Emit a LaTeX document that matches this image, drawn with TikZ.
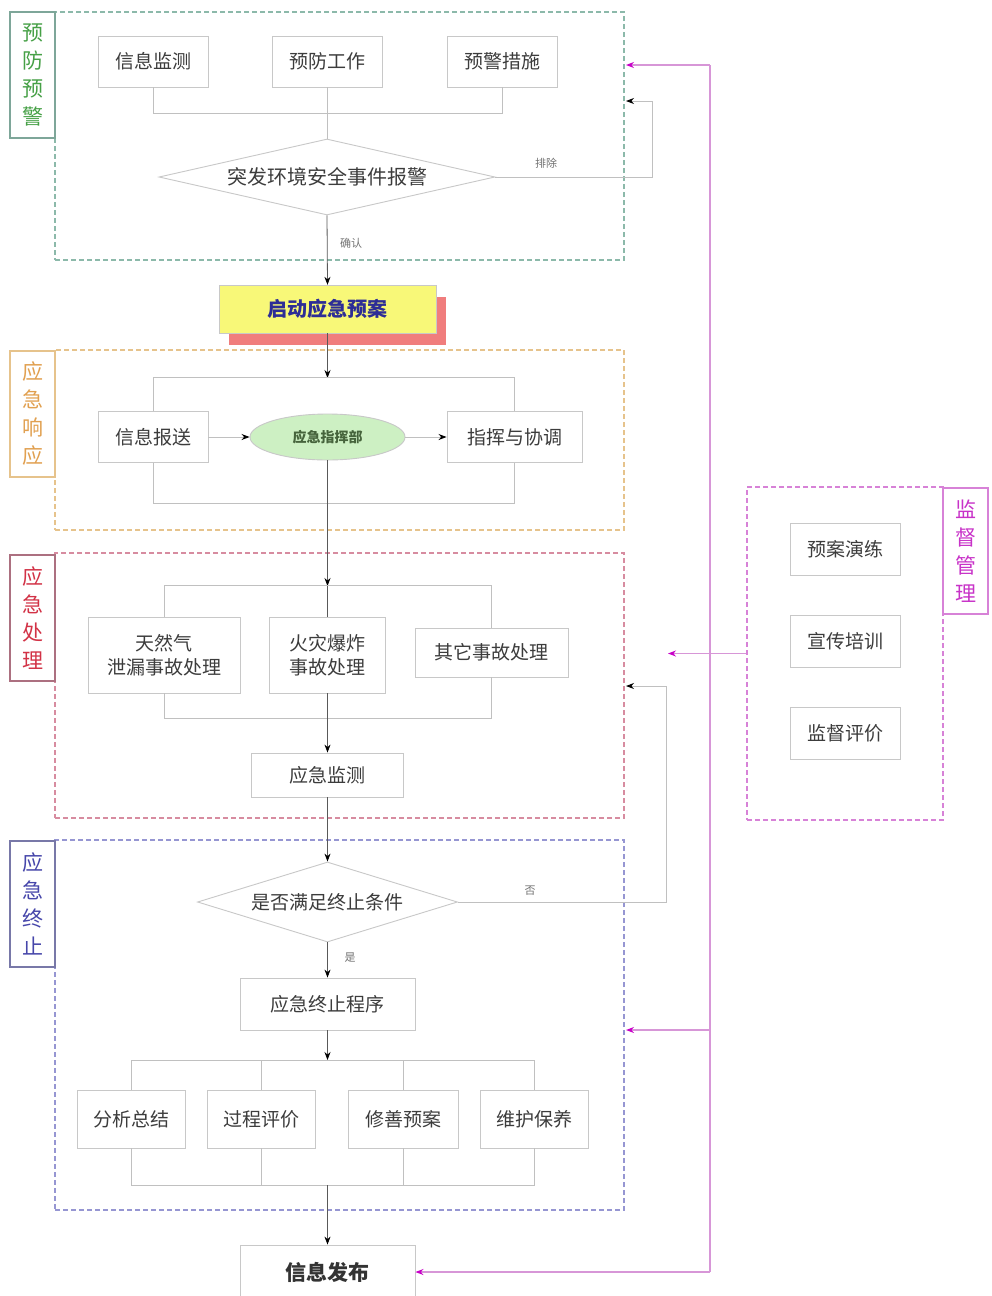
\documentclass[tikz,border=0pt]{standalone}
\usepackage{fontspec}
\newfontfamily\cjk{Noto Sans CJK SC}
\usetikzlibrary{arrows.meta,shapes.geometric}
\definecolor{gline}{RGB}{192,192,192}
\definecolor{boxline}{RGB}{200,200,200}
\definecolor{txt}{RGB}{60,60,60}
\definecolor{cA}{RGB}{140,185,170}
\definecolor{cAt}{RGB}{70,160,70}
\definecolor{cB}{RGB}{230,195,140}
\definecolor{cBt}{RGB}{225,160,80}
\definecolor{cC}{RGB}{215,140,160}
\definecolor{cCt}{RGB}{210,50,70}
\definecolor{cD}{RGB}{150,150,210}
\definecolor{cDt}{RGB}{70,70,170}
\definecolor{cE}{RGB}{215,130,215}
\definecolor{cEt}{RGB}{200,50,200}
\definecolor{mline}{RGB}{215,150,215}
\definecolor{mtip}{RGB}{200,0,200}
\definecolor{yel}{RGB}{248,248,120}
\definecolor{shred}{RGB}{240,125,125}
\definecolor{egreen}{RGB}{205,240,195}
\tikzset{
  every node/.style={font=\cjk},
  box/.style={draw=boxline, line width=0.9pt, fill=white, text=txt, inner sep=0pt, align=center,
    font=\cjk\fontsize{19}{24}\selectfont},
  grp/.style={dashed, dash pattern=on 5pt off 3pt, line width=1.2pt, inner sep=0pt},
  lab/.style={line width=1.2pt, fill=white, inner sep=0pt, minimum width=45pt, minimum height=126pt,
    align=center, font=\cjk\fontsize{21}{28}\selectfont},
  gl/.style={draw=gline, line width=0.9pt},
  fl/.style={draw=gline, line width=0.9pt, -{Stealth[length=8pt,width=6pt,color=black]}},
  cl/.style={draw=black!65, line width=0.8pt, -{Stealth[length=8pt,width=6pt,color=black]}},
  ml/.style={draw=mline, line width=1.2pt},
  ma/.style={draw=mline, line width=1.2pt, -{Stealth[length=8pt,width=6pt,color=mtip]}},
  small/.style={text=black!55, font=\cjk\fontsize{11}{13}\selectfont},
}
\begin{document}
\begin{tikzpicture}[x=1pt,y=-1pt]
\useasboundingbox (0,0) rectangle (992,1296);
\fill[white] (0,0) rectangle (992,1296);

% group frames
\node[grp, draw=cA, minimum width=569pt, minimum height=248pt] (g1) at (339.5,136) {};
\node[grp, draw=cB, minimum width=569pt, minimum height=180pt] (g2) at (339.5,440) {};
\node[grp, draw=cC, minimum width=569pt, minimum height=265pt] (g3) at (339.5,685.5) {};
\node[grp, draw=cD, minimum width=569pt, minimum height=370pt] (g4) at (339.5,1025) {};
\node[grp, draw=cE, minimum width=196pt, minimum height=333pt] (g5) at (845,653.5) {};

% section labels
\node[lab, draw=cA!90!black, text=cAt] (l1) at (32.5,75) {预\\防\\预\\警};
\node[lab, draw=cB, text=cBt] (l2) at (32.5,414) {应\\急\\响\\应};
\node[lab, draw=cC!80!black, text=cCt] (l3) at (32.5,618) {应\\急\\处\\理};
\node[lab, draw=cD!80!black, text=cDt] (l4) at (32.5,904) {应\\急\\终\\止};
\node[lab, draw=cE, text=cEt] (l5) at (965.5,551) {监\\督\\管\\理};

% section 1
\node[box, minimum width=110pt, minimum height=51pt] (m1) at (153,61.5) {信息监测};
\node[box, minimum width=110pt, minimum height=51pt] (m2) at (327,61.5) {预防工作};
\node[box, minimum width=110pt, minimum height=51pt] (m3) at (502,61.5) {预警措施};
\node[draw=boxline, line width=0.9pt, fill=white, diamond, inner sep=0pt, minimum width=336pt, minimum height=76pt] (d1) at (327,177) {};
\node[text=txt, font=\cjk\fontsize{20}{24}\selectfont] (d1t) at (d1) {突发环境安全事件报警};
\draw[gl] (m1.south) -- ++(0,26) -| (m3.south);
\draw[gl] (m2.south) -- (d1.north);
\coordinate (r1) at (626,101);
\draw[fl] (d1.east) -- (652,177) |- (r1);
\node[small] (t1) at (546,163) {排除};

% start plan
\node[fill=shred, minimum width=217pt, minimum height=48pt, inner sep=0pt] (qds) at (337.5,321) {};
\node[draw=boxline, fill=yel, minimum width=217pt, minimum height=48pt, inner sep=0pt, text={rgb,255:red,45;green,45;blue,150},
  font=\cjk\bfseries\fontsize{20}{24}\selectfont] (qd) at (327.5,309) {启动应急预案};
\draw[cl] (d1.south) -- (qd.north);
\node[small] (t2) at (351,243) {确认};

% section 2
\node[box, minimum width=110pt, minimum height=51pt] (r1b) at (153,437) {信息报送};
\node[draw=boxline, line width=0.9pt, fill=egreen, ellipse, minimum width=155pt, minimum height=46pt, inner sep=0pt,
  text={rgb,255:red,70;green,100;blue,60}, font=\cjk\bfseries\fontsize{14}{16}\selectfont] (e) at (327.5,437) {应急指挥部};
\node[box, minimum width=135pt, minimum height=51pt] (r3b) at (514.5,437) {指挥与协调};
\coordinate (b2t) at (327.5,378);
\draw[cl] (qd.south) -- (b2t);
\draw[gl] (r1b.north) -- ++(0,-34) -| (r3b.north);
\draw[gl] (r1b.south) -- ++(0,40) -| (r3b.south);
\draw[fl] (r1b.east) -- (e.west);
\draw[fl] (e.east) -- (r3b.west);

% section 3
\node[box, minimum width=152pt, minimum height=76pt] (p1) at (164,655) {天然气\\泄漏事故处理};
\node[box, minimum width=116pt, minimum height=76pt] (p2) at (327.5,655) {火灾爆炸\\事故处理};
\node[box, minimum width=153pt, minimum height=49pt] (p3) at (491.5,652.5) {其它事故处理};
\coordinate (b3t) at (327.5,586);
\draw[cl] (e.south) -- (b3t);
\draw[gl] (p1.north) -- ++(0,-31) -| (p3.north);
\draw[gl] (p1.south) -- ++(0,25) -| (p3.south);
\draw[draw=black!65, line width=0.8pt] (b3t) -- (p2.north);
\node[box, minimum width=152pt, minimum height=44pt] (mon) at (327.5,775) {应急监测};
\draw[cl] (p2.south) -- (mon.north);

% section 4
\node[draw=boxline, line width=0.9pt, fill=white, diamond, inner sep=0pt, minimum width=260pt, minimum height=80pt] (d2) at (327.5,902) {};
\node[text=txt, font=\cjk\fontsize{19}{24}\selectfont] (d2t) at (d2) {是否满足终止条件};
\draw[cl] (mon.south) -- (d2.north);
\coordinate (r2) at (626,686);
\draw[fl] (d2.east) -- (666,902) |- (r2);
\node[small] (t3) at (530,891) {否};
\node[box, minimum width=175pt, minimum height=52pt] (term) at (327.5,1004) {应急终止程序};
\draw[cl] (d2.south) -- (term.north);
\node[small] (t4) at (350,958) {是};
\node[box, minimum width=108pt, minimum height=58pt] (s1) at (131,1119) {分析总结};
\node[box, minimum width=108pt, minimum height=58pt] (s2) at (261,1119) {过程评价};
\node[box, minimum width=110pt, minimum height=58pt] (s3) at (403,1119) {修善预案};
\node[box, minimum width=108pt, minimum height=58pt] (s4) at (534,1119) {维护保养};
\coordinate (b4t) at (327.5,1060);
\coordinate (b4b) at (327.5,1185);
\draw[cl] (term.south) -- (b4t);
\draw[gl] (s1.north) -- ++(0,-29) -| (s4.north);
\draw[gl] (s2.north) -- ++(0,-29);
\draw[gl] (s3.north) -- ++(0,-29);
\draw[gl] (s1.south) -- ++(0,37) -| (s4.south);
\draw[gl] (s2.south) -- ++(0,37);
\draw[gl] (s3.south) -- ++(0,37);
\node[box, minimum width=175pt, minimum height=54pt, text=black!80, font=\cjk\bfseries\fontsize{21}{24}\selectfont] (pub) at (327.5,1272) {信息发布};
\draw[cl] (b4b) -- (pub.north);

% section 5
\node[box, minimum width=110pt, minimum height=52pt] (k1) at (845,549) {预案演练};
\node[box, minimum width=110pt, minimum height=52pt] (k2) at (845,641) {宣传培训};
\node[box, minimum width=110pt, minimum height=52pt] (k3) at (845,733.5) {监督评价};

% magenta feedback lines
\coordinate (mtop) at (710,65);
\coordinate (mbot) at (710,1272);
\coordinate (mmid) at (710,1030);
\coordinate (a1) at (626,65);
\coordinate (a2) at (626,1030);
\coordinate (a3) at (668,653.5);
\draw[ml] (mtop) -- (mbot);
\draw[ma] (mtop) -- (a1);
\draw[ma] (mmid) -- (a2);
\draw[ma] (mbot) -- (pub.east);
\draw[ma] (g5.west) -- (a3);
\end{tikzpicture}
\end{document}
